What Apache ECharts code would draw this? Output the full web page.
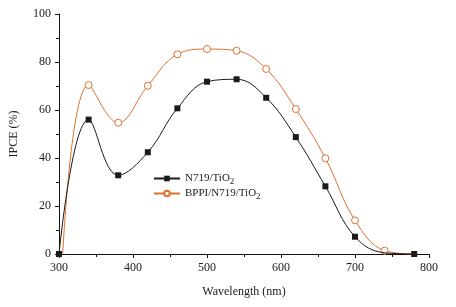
<!DOCTYPE html>
<html>
<head>
<meta charset="utf-8">
<script src="https://cdn.jsdelivr.net/npm/echarts@6/dist/echarts.min.js"></script>
<style>html,body{margin:0;padding:0;background:#fff}#main{width:456px;height:307px}</style>
</head>
<body>
<div id="main"></div>
<script>
// 数据
var seriesNames = ['N719/TiO2', 'BPPI/N719/TiO2'];
var wlA = [300, 340, 380, 420, 460, 500, 540, 580, 620, 660, 700, 740, 780];
var ipceA = [0, 56, 32.8, 42.4, 60.7, 71.8, 72.8, 65.1, 48.7, 28.2, 7.2, 0.5, 0];
var hideA = [740]; // 被圆圈盖住的点
var wlB = [305, 340, 380, 420, 460, 500, 540, 580, 620, 660, 700, 740, 780];
var ipceB = [0, 70.4, 54.7, 70.1, 83.2, 85.4, 84.7, 77.1, 60.4, 39.9, 14.0, 1.4, 0];
var hideB = [305, 780]; // 没有标记的端点

var font = '"Liberation Serif", "DejaVu Serif", serif';

function pairs(xs, ys, hide) {
  return xs.map(function (x, i) {
    var item = { value: [x, ys[i]] };
    if (hide && hide.indexOf(x) >= 0) item.symbol = 'none';
    return item;
  });
}

var myChart = echarts.init(document.getElementById('main'));
var option = {
  animation: false,
  grid: { left: 59, right: 27, top: 14, bottom: 53 },
  legend: {
    orient: 'vertical',
    left: 148,
    top: 168,
    itemGap: 2,
    itemWidth: 26,
    itemHeight: 7,
    data: seriesNames,
    formatter: function (name) { return name.replace('TiO2', 'TiO{sub|2}'); },
    textStyle: {
      fontFamily: font, fontSize: 11, color: '#222',
      rich: { sub: { fontFamily: font, fontSize: 9, color: '#222', padding: [6, 0, 0, 0] } }
    }
  },
  xAxis: {
    type: 'value', min: 300, max: 800, interval: 100,
    name: 'Wavelength (nm)', nameLocation: 'middle', nameGap: 32,
    nameTextStyle: { fontFamily: font, fontSize: 12, color: '#222' },
    axisLine: { onZero: false, lineStyle: { color: '#111', width: 1 } },
    axisTick: { inside: false, length: 4, lineStyle: { color: '#111' } },
    minorTick: { show: true, splitNumber: 2, length: 3, lineStyle: { color: '#111' } },
    axisLabel: { fontFamily: font, fontSize: 12, color: '#222', margin: 8 },
    splitLine: { show: false }
  },
  yAxis: {
    type: 'value', min: 0, max: 100, interval: 20,
    name: 'IPCE (%)', nameLocation: 'middle', nameGap: 39,
    nameTextStyle: { fontFamily: font, fontSize: 12, color: '#222' },
    axisLine: { show: true, lineStyle: { color: '#111', width: 1 } },
    axisTick: { show: true, length: 4, lineStyle: { color: '#111' } },
    minorTick: { show: true, splitNumber: 2, length: 3, lineStyle: { color: '#111' } },
    axisLabel: { fontFamily: font, fontSize: 12, color: '#222', margin: 8 },
    splitLine: { show: false }
  },
  series: [
    {
      name: seriesNames[0], type: 'line', smooth: 0.4,
      data: pairs(wlA, ipceA, hideA),
      symbol: 'rect', symbolSize: 6,
      itemStyle: { color: '#1a1a1a' },
      lineStyle: { color: '#1a1a1a', width: 1 },
      z: 3
    },
    {
      name: seriesNames[1], type: 'line', smooth: 0.4,
      data: pairs(wlB, ipceB, hideB),
      symbol: 'circle', symbolSize: 7, showAllSymbol: true,
      itemStyle: { color: '#fff', borderColor: '#e0702e', borderWidth: 1 },
      lineStyle: { color: '#e0702e', width: 1 },
      z: 2
    }
  ],
  color: ['#1a1a1a', '#e0702e']
};
myChart.setOption(option);
</script>
</body>
</html>
